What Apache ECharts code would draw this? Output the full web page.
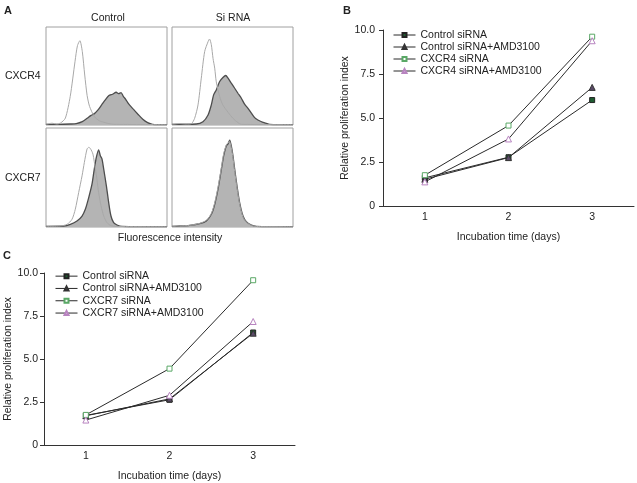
<!DOCTYPE html>
<html>
<head>
<meta charset="utf-8">
<script src="https://cdn.jsdelivr.net/npm/echarts@6/dist/echarts.min.js"></script>
<style>
  html, body { margin: 0; padding: 0; background: #fff; }
  #chart { width: 637px; height: 483px; }
</style>
</head>
<body>
<div id="chart"></div>
<script>
// flow histograms, [fluorescence %, count %]
const a4CtrlOpen = [[0,0.7],[5,1.8],[9,1],[12,2],[16,7],[20,29],[24,65],[26,81],[28,86],[30,75],[32,51],[34,30],[36,19],[40,8.5],[44,4.4],[48,2.7],[52,1.4],[56,0.7],[100,0.3]];
const a4CtrlFill = [[0,0.7],[10,0.7],[20,1],[25,1.4],[30,3.4],[34,6.8],[37,9.6],[40,11.6],[43,15.4],[46,20.5],[49,25.6],[52,30],[55,31.4],[58,33.4],[60,32],[62,33],[64,29],[66,26],[68,22],[72,16.4],[76,11],[80,5.8],[84,2.4],[88,0.7],[100,0.3]];
const a4SiOpen = [[0,0.7],[6,1.5],[12,1],[16,1.4],[18.7,6.8],[21.5,20.5],[24.2,47.8],[27,75],[29.8,85],[31,87.7],[32.5,82],[33.9,68],[35.3,58],[36.6,44],[39.4,29],[42,20.5],[46.3,13],[50.4,6.8],[54.5,2.4],[57.3,0.7],[100,0.3]];
const a4SiFill = [[0,0.7],[20,1],[25.6,3.4],[29.8,10.2],[32.5,20.5],[34.4,30.7],[36.6,35.8],[39.4,44.4],[42.1,48.5],[44.4,50.5],[46.3,47.8],[49,42.7],[51.8,37.5],[54.5,32.4],[57.3,27.3],[60,21.2],[62.8,17],[65.6,12],[68.3,7.5],[71,5.1],[75.2,2.7],[80.7,0.7],[100,0.3]];
const a7CtrlOpen = [[0,0.7],[11.8,1],[17.4,2.7],[21.5,7.8],[24.2,17.9],[27,34.8],[29.8,51.7],[31.7,65.2],[33.9,78.7],[35.3,80.4],[36.6,79.4],[38.8,73.6],[40.8,58.4],[42.1,48.3],[43.5,34.8],[45.5,21.3],[47.7,11.1],[50.4,4.4],[53.2,1.7],[58,0.5],[100,0.3]];
const a7CtrlFill = [[0,0.7],[14.6,1],[20.1,2.7],[25.6,6.1],[29.8,11.1],[32.5,17.9],[35.3,29.7],[38,43.2],[39.9,58.4],[41.6,70.3],[43.5,78],[44.9,72],[46.3,68.6],[47.7,58.4],[49.9,41.6],[51.8,24.7],[53.7,11.1],[55.9,4.4],[58.7,2],[62.8,0.7],[100,0.3]];
const a7SiOpen = [[0,0.7],[6.3,1],[14.6,1.7],[22.9,3.7],[28.4,6.8],[32.5,13.5],[35.3,24.5],[38,40],[40.8,60],[42.7,74],[44.9,83],[46.3,85],[47.4,86.5],[49,80],[50.4,70],[51.8,56],[53.7,39.5],[55.9,23],[58.7,10],[61.4,5],[65.6,1.7],[69.7,0.5],[100,0.3]];
const a7SiFill = [[0,0.7],[6.3,1],[14.6,1.7],[22.9,3.4],[28.4,6.1],[32.5,12.8],[35.3,23],[38,38.2],[40.8,58.4],[42.7,72],[44.9,82],[46.3,83.8],[47.7,87.8],[49,82],[50.4,72],[51.8,58.4],[53.7,41.6],[55.9,24.7],[58.7,11.1],[61.4,5.4],[65.6,2],[69.7,0.7],[100,0.3]];

// proliferation panels
const days = ['1', '2', '3'];
const yTickLabels = ['0', '2.5', '5.0', '7.5', '10.0'];
const bNames = ['Control siRNA', 'Control siRNA+AMD3100', 'CXCR4 siRNA', 'CXCR4 siRNA+AMD3100'];
const bControl = [1.6, 2.77, 6.02];
const bControlAmd = [1.52, 2.75, 6.74];
const bCxcr4 = [1.75, 4.57, 9.62];
const bCxcr4Amd = [1.37, 3.81, 9.39];
const cNames = ['Control siRNA', 'Control siRNA+AMD3100', 'CXCR7 siRNA', 'CXCR7 siRNA+AMD3100'];
const cControl = [1.72, 2.63, 6.54];
const cControlAmd = [1.7, 2.68, 6.5];
const cCxcr7 = [1.75, 4.44, 9.58];
const cCxcr7Amd = [1.45, 2.89, 7.18];

const FONT = 'Liberation Sans, Arial, sans-serif';
const INK = '#222';

// marker look for the 4 series, same order in B and C
const marks = [
  { symbol: 'rect', symbolSize: 5, itemStyle: { color: '#1f5c31', borderColor: '#222', borderWidth: 1 } },
  { symbol: 'triangle', symbolSize: 6, itemStyle: { color: '#5a4a68', borderColor: '#333', borderWidth: 1 } },
  { symbol: 'rect', symbolSize: 5, itemStyle: { color: '#fff', borderColor: '#5aa866', borderWidth: 1 } },
  { symbol: 'triangle', symbolSize: 6, itemStyle: { color: '#fff', borderColor: '#b884c0', borderWidth: 1 } }
];

const boxes = [
  { left: 46, top: 27, width: 121, height: 98 },
  { left: 172, top: 27, width: 121, height: 98 },
  { left: 46, top: 128, width: 121, height: 99 },
  { left: 172, top: 128, width: 121, height: 99 }
];
const histPairs = [
  [a4CtrlFill, a4CtrlOpen],
  [a4SiFill, a4SiOpen],
  [a7CtrlFill, a7CtrlOpen],
  [a7SiFill, a7SiOpen]
];

const grid = [];
const xAxis = [];
const yAxis = [];
const series = [];

boxes.forEach((b, i) => {
  grid.push(Object.assign({ show: true, borderColor: '#a0a0a0', borderWidth: 1, backgroundColor: '#fff' }, b));
  xAxis.push({ type: 'value', gridIndex: i, min: 0, max: 100, show: false });
  yAxis.push({ type: 'value', gridIndex: i, min: 0, max: 100, show: false });
  series.push({
    type: 'line', xAxisIndex: i, yAxisIndex: i, data: histPairs[i][0],
    symbol: 'none', smooth: 0.25, silent: true,
    lineStyle: { color: '#4d4d4d', width: 1.3 },
    areaStyle: { color: '#b4b4b4', opacity: 1 }
  });
  series.push({
    type: 'line', xAxisIndex: i, yAxisIndex: i, data: histPairs[i][1],
    symbol: 'none', smooth: 0.25, silent: true,
    lineStyle: { color: '#a8a8a8', width: 1 }
  });
});

function lineGrid(idx, left, top, labelMargin) {
  grid.push({ left: left, top: top, width: 251, height: 176 });
  xAxis.push({
    type: 'category', gridIndex: idx, data: days,
    axisLine: { lineStyle: { color: '#333' } },
    axisTick: { length: 4, lineStyle: { color: '#333' } },
    axisLabel: { margin: 6, fontSize: 10.5, color: INK, fontFamily: FONT },
    name: 'Incubation time (days)', nameLocation: 'middle', nameGap: 26,
    nameTextStyle: { fontSize: 10.5, color: INK, fontFamily: FONT }
  });
  yAxis.push({
    type: 'value', gridIndex: idx, min: 0, max: 10, interval: 2.5,
    axisLine: { show: true, lineStyle: { color: '#333' } },
    axisTick: { show: true, length: 4, lineStyle: { color: '#333' } },
    splitLine: { show: false },
    axisLabel: {
      margin: labelMargin, fontSize: 10.5, color: INK, fontFamily: FONT,
      formatter: v => yTickLabels[Math.round(v / 2.5)]
    },
    name: 'Relative proliferation index', nameLocation: 'middle', nameGap: 29,
    nameTextStyle: { fontSize: 10.5, color: INK, fontFamily: FONT }
  });
}

function addLines(idx, names, sets) {
  sets.forEach((d, k) => {
    series.push(Object.assign({
      type: 'line', name: names[k], xAxisIndex: idx, yAxisIndex: idx, data: d,
      lineStyle: { color: '#2a2a2a', width: 1 },
      emphasis: { disabled: true }
    }, marks[k]));
  });
}

lineGrid(4, 383, 30, 8);
addLines(4, bNames, [bControl, bControlAmd, bCxcr4, bCxcr4Amd]);
lineGrid(5, 44, 273, 6);
addLines(5, cNames, [cControl, cControlAmd, cCxcr7, cCxcr7Amd]);

function legendAt(left, top, names, rowH) {
  return {
    orient: 'vertical', left: left, top: top, data: names, padding: 0,
    itemWidth: 22, itemHeight: 5, itemGap: 0, selectedMode: false,
    lineStyle: { width: 1 },
    textStyle: { fontSize: 10.5, lineHeight: rowH, color: INK, fontFamily: FONT }
  };
}

function txt(text, x, y, opts) {
  return {
    type: 'text', x: x, y: y, silent: true,
    style: Object.assign({
      text: text, fill: INK, font: '10.5px ' + FONT,
      align: 'left', verticalAlign: 'middle'
    }, opts || {})
  };
}

const chart = echarts.init(document.getElementById('chart'));
chart.setOption({
  animation: false,
  backgroundColor: '#fff',
  grid: grid,
  xAxis: xAxis,
  yAxis: yAxis,
  series: series,
  legend: [legendAt(393, 29, bNames, 12), legendAt(55, 270, cNames, 12.3)],
  graphic: [
    txt('A', 4, 11, { font: 'bold 11px ' + FONT }),
    txt('B', 343, 11, { font: 'bold 11px ' + FONT }),
    txt('C', 3, 256, { font: 'bold 11px ' + FONT }),
    txt('Control', 108, 18, { align: 'center' }),
    txt('Si RNA', 233, 18, { align: 'center' }),
    txt('CXCR4', 5, 76),
    txt('CXCR7', 5, 178),
    txt('Fluorescence intensity', 170, 238, { align: 'center' })
  ]
});
</script>
</body>
</html>
